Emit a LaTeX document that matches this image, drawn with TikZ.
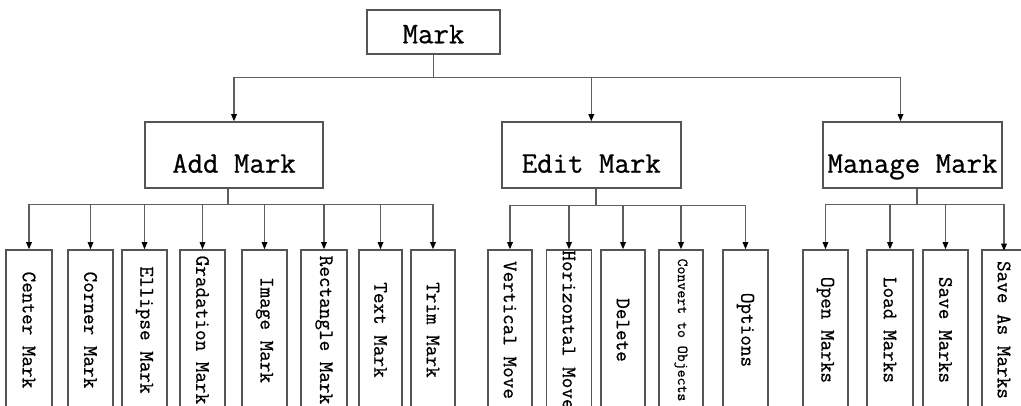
\documentclass[tikz,border=0pt]{standalone}
\usepackage{fontspec}
\newfontfamily\mono{Latin Modern Mono}[FakeBold=0.7]
\usetikzlibrary{arrows.meta}
\definecolor{ln}{HTML}{5E5E5E}
\definecolor{bx}{HTML}{555555}
\begin{document}
\begin{tikzpicture}[x=1pt,y=-1pt,
  box/.style={draw=bx,line width=1.5pt,rectangle,inner xsep=0pt,inner ysep=0pt,
    font=\mono\fontsize{30}{32}\selectfont},
  topbox/.style={box,minimum width=133pt,text height=33.3pt,text depth=10.7pt},
  midbox/.style={box,minimum width=179pt,text height=50.7pt,text depth=15.3pt},
  leaf/.style={draw=bx,line width=1.5pt,rectangle,rotate=-90,inner sep=0pt,
    minimum width=160pt,minimum height=45pt,
    font=\mono\fontsize{20.6}{22}\selectfont},
  smallleaf/.style={leaf,font=\mono\fontsize{15.4}{17}\selectfont},
  conn/.style={draw=ln,line width=1.4pt},
  arr/.style={conn,-{Triangle[length=7pt,width=5.5pt,color=black]}}]
\useasboundingbox (0,0) rectangle (1021,406);
\fill[white] (0,0) rectangle (1021,406);
\clip (0,0) rectangle (1021,406);

% level 0
\node[topbox] (mark) at (433.5,32) {Mark};
% level 1
\node[midbox,minimum width=178pt] (add) at (234,155) {Add Mark};
\node[midbox] (edit) at (591.3,155) {Edit Mark};
\node[midbox] (manage) at (912.5,155) {Manage Mark};

% leaves: Add Mark
\node[leaf,minimum height=45.7pt] (l1) at (29,330) {Center Mark};
\node[leaf] (l2) at (90.5,330) {Corner Mark};
\node[leaf] (l3) at (144.5,330) {Ellipse Mark};
\node[leaf] (l4) at (202.5,330) {Gradation Mark};
\node[leaf] (l5) at (264.5,330) {Image Mark};
\node[leaf,minimum height=46pt] (l6) at (324,330) {Rectangle Mark};
\node[leaf,minimum height=43pt] (l7) at (380.5,330) {Text Mark};
\node[leaf,minimum height=44.3pt] (l8) at (433,330) {Trim Mark};
% leaves: Edit Mark
\node[leaf,minimum height=44.3pt] (e1) at (510,330) {Vertical Move};
\node[leaf] (e2) at (569,330) {Horizontal Move};
\node[leaf,minimum height=44.3pt] (e3) at (623,330) {Delete};
\node[smallleaf,minimum height=44pt] (e4) at (681,330) {Convert to Objects};
\node[leaf] (e5) at (745.5,330) {Options};
% leaves: Manage Mark
\node[leaf,minimum height=44.7pt] (m1) at (825.5,330) {Open Marks};
\node[leaf,minimum height=45.7pt] (m2) at (890,330) {Load Marks};
\node[leaf] (m3) at (945.5,330) {Save Marks};
\node[leaf,minimum height=44pt] (m4) at (1004,330) {Save As Marks};

% connectors level 0 -> 1
\draw[conn] (mark.south) -- ++(0,23) coordinate (t0);
\draw[arr] (t0) -| (add.north);
\draw[arr] (t0) -| (edit.north);
\draw[arr] (t0) -| ([xshift=-12pt]manage.north);

% Add Mark -> leaves
\draw[conn] ([xshift=-6pt]add.south) -- ++(0,16) coordinate (ta);
\foreach \n in {l1,l2,l3,l4,l5,l6,l7,l8}
  \draw[arr] (ta) -| (\n.west);
% Edit Mark -> leaves
\draw[conn] ([xshift=4.7pt]edit.south) -- ++(0,17) coordinate (te);
\foreach \n in {e1,e2,e3,e4,e5}
  \draw[arr] (te) -| (\n.west);
% Manage Mark -> leaves
\draw[conn] ([xshift=4.5pt]manage.south) -- ++(0,16) coordinate (tm);
\foreach \n in {m1,m2,m3}
  \draw[arr] (tm) -| (\n.west);
\draw[arr] (tm) -| ([yshift=-1.5pt]m4.west);
\end{tikzpicture}
\end{document}
